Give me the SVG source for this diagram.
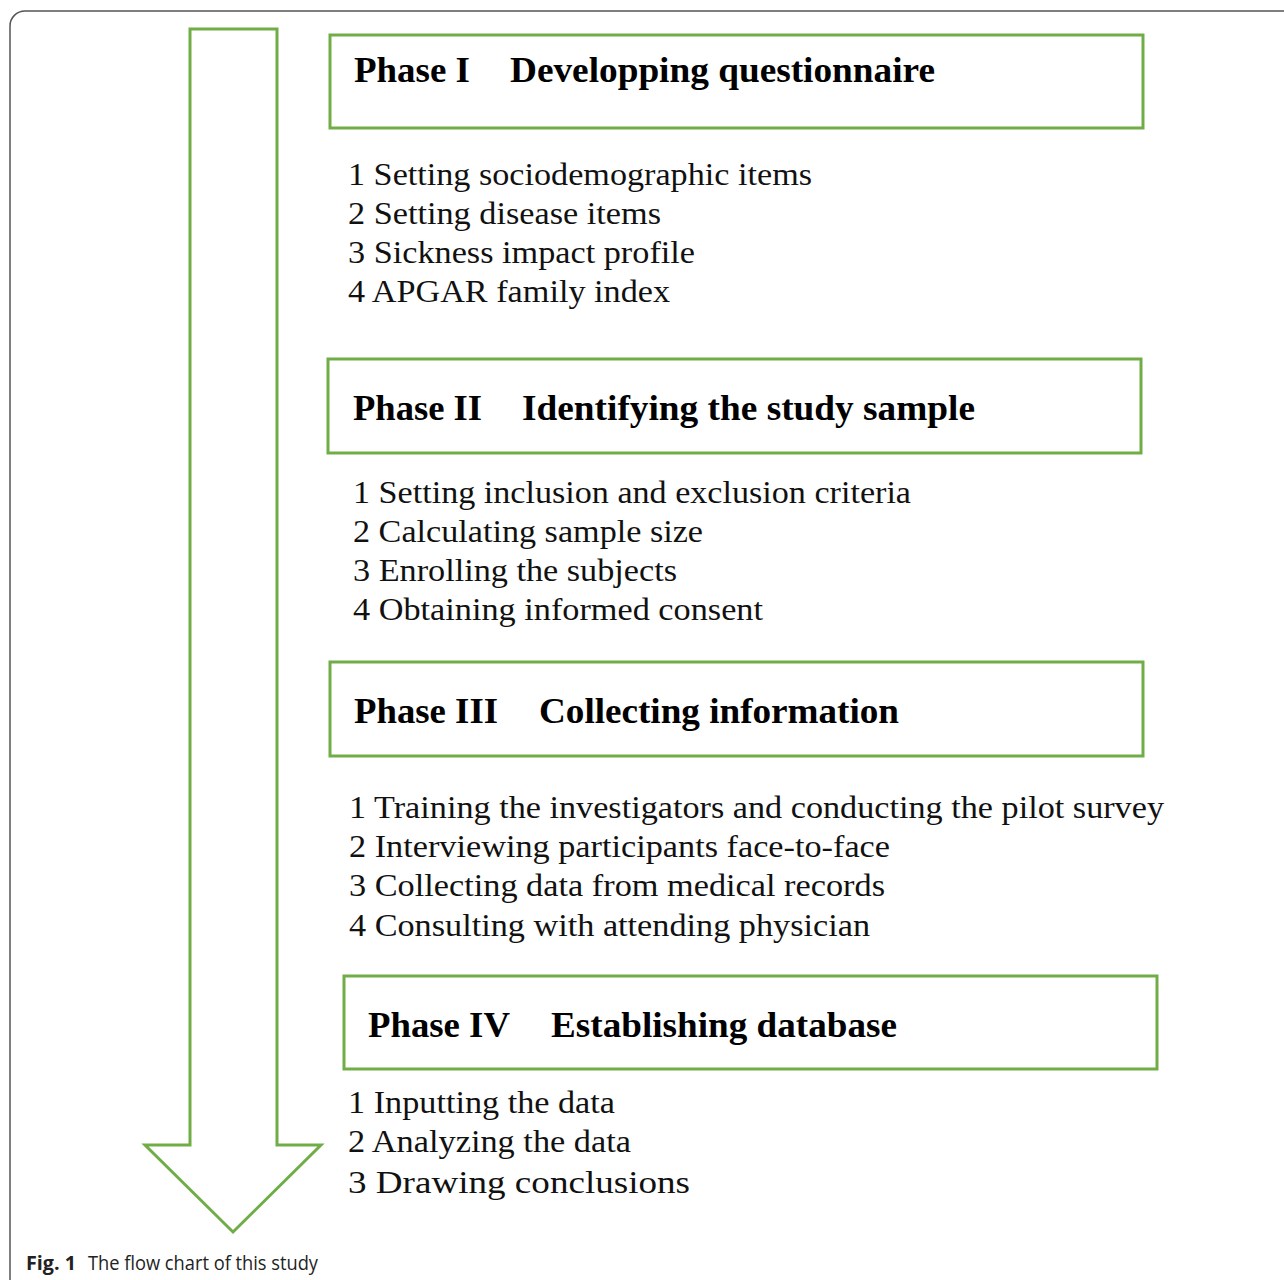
<svg xmlns="http://www.w3.org/2000/svg" width="1284" height="1280" viewBox="0 0 1284 1280">
<style>
.box{fill:none;stroke:#70ad47;stroke-width:3}
.t{font-family:"Liberation Serif","Times New Roman",serif;font-weight:bold;font-size:35px;fill:#000}
.i{font-family:"Liberation Serif","Times New Roman",serif;font-size:32px;fill:#111}
.cap{font-family:"Open Sans","Liberation Sans",sans-serif;font-size:20px;fill:#222}
</style>
<rect width="1284" height="1280" fill="#fff"/>
<path d="M10,1280 V26 A15,15 0 0 1 25,11 H1284" fill="none" stroke="#555" stroke-width="1.5"/>
<g id="connectors">
<path class="box" d="M190,29 H277 V1145 H321 L233,1232 L145,1145 H190 Z"/>
</g>
<g id="phase1">
<rect class="box" x="330" y="35" width="813" height="93"/>
<text class="t" x="354" y="82" textLength="116" lengthAdjust="spacingAndGlyphs">Phase I</text>
<text class="t" x="510" y="82" textLength="425" lengthAdjust="spacingAndGlyphs">Developping questionnaire</text>
<text class="i" x="348" y="185" textLength="464" lengthAdjust="spacingAndGlyphs">1 Setting sociodemographic items</text>
<text class="i" x="348" y="224" textLength="313" lengthAdjust="spacingAndGlyphs">2 Setting disease items</text>
<text class="i" x="348" y="263" textLength="347" lengthAdjust="spacingAndGlyphs">3 Sickness impact profile</text>
<text class="i" x="348" y="302" textLength="322" lengthAdjust="spacingAndGlyphs">4 APGAR family index</text>
</g>
<g id="phase2">
<rect class="box" x="328" y="359" width="813" height="94"/>
<text class="t" x="353" y="420" textLength="129" lengthAdjust="spacingAndGlyphs">Phase II</text>
<text class="t" x="522" y="420" textLength="453" lengthAdjust="spacingAndGlyphs">Identifying the study sample</text>
<text class="i" x="353" y="503" textLength="558" lengthAdjust="spacingAndGlyphs">1 Setting inclusion and exclusion criteria</text>
<text class="i" x="353" y="542" textLength="350" lengthAdjust="spacingAndGlyphs">2 Calculating sample size</text>
<text class="i" x="353" y="581" textLength="324" lengthAdjust="spacingAndGlyphs">3 Enrolling the subjects</text>
<text class="i" x="353" y="620" textLength="410" lengthAdjust="spacingAndGlyphs">4 Obtaining informed consent</text>
</g>
<g id="phase3">
<rect class="box" x="330" y="662" width="813" height="94"/>
<text class="t" x="354" y="723" textLength="144" lengthAdjust="spacingAndGlyphs">Phase III</text>
<text class="t" x="539" y="723" textLength="360" lengthAdjust="spacingAndGlyphs">Collecting information</text>
<text class="i" x="349" y="818" textLength="815" lengthAdjust="spacingAndGlyphs">1 Training the investigators and conducting the pilot survey</text>
<text class="i" x="349" y="857" textLength="541" lengthAdjust="spacingAndGlyphs">2 Interviewing participants face-to-face</text>
<text class="i" x="349" y="896" textLength="536" lengthAdjust="spacingAndGlyphs">3 Collecting data from medical records</text>
<text class="i" x="349" y="936" textLength="521" lengthAdjust="spacingAndGlyphs">4 Consulting with attending physician</text>
</g>
<g id="phase4">
<rect class="box" x="344" y="976" width="813" height="93"/>
<text class="t" x="368" y="1037" textLength="142" lengthAdjust="spacingAndGlyphs">Phase IV</text>
<text class="t" x="551" y="1037" textLength="346" lengthAdjust="spacingAndGlyphs">Establishing database</text>
<text class="i" x="348" y="1113" textLength="267" lengthAdjust="spacingAndGlyphs">1 Inputting the data</text>
<text class="i" x="348" y="1152" textLength="283" lengthAdjust="spacingAndGlyphs">2 Analyzing the data</text>
<text class="i" x="348" y="1193" textLength="342" lengthAdjust="spacingAndGlyphs">3 Drawing conclusions</text>
</g>
<text class="cap" x="26" y="1270" font-weight="bold" textLength="50" lengthAdjust="spacingAndGlyphs">Fig. 1</text>
<text class="cap" x="88" y="1270" textLength="230" lengthAdjust="spacingAndGlyphs">The flow chart of this study</text>
</svg>
